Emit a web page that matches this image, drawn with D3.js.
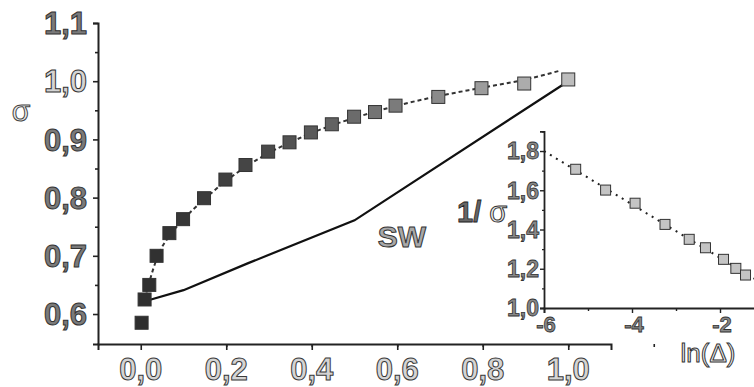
<!DOCTYPE html>
<html>
<head>
<meta charset="utf-8">
<script src="https://cdn.jsdelivr.net/npm/d3@7"></script>
<style>
  body { margin: 0; background: #fff; }
  svg { display: block; }
  text { font-family: "Liberation Sans", Arial, sans-serif; }
</style>
</head>
<body>
<svg id="viz" width="754" height="387"></svg>
<script>
// main panel: sigma vs x
const sigX = [0.002, 0.009, 0.02, 0.037, 0.067, 0.099, 0.148, 0.198, 0.245, 0.298, 0.348, 0.398, 0.447, 0.499, 0.548, 0.596, 0.696, 0.797, 0.897, 1.0];
const sigY = [0.585, 0.625, 0.65, 0.70, 0.739, 0.763, 0.799, 0.831, 0.856, 0.879, 0.895, 0.912, 0.926, 0.939, 0.947, 0.958, 0.973, 0.988, 0.996, 1.003];

// dashed fit through the squares
const fitX = [0.009, 0.02, 0.04, 0.07, 0.1, 0.15, 0.2, 0.25, 0.3, 0.35, 0.4, 0.45, 0.5, 0.55, 0.6, 0.7, 0.8, 0.9, 0.98];
const fitY = [0.625, 0.655, 0.70, 0.737, 0.763, 0.798, 0.829, 0.855, 0.877, 0.895, 0.911, 0.925, 0.937, 0.948, 0.958, 0.975, 0.989, 1.003, 1.018];

// solid "SW" curve
const swX = [0.02, 0.1, 0.25, 0.5, 1.0];
const swY = [0.624, 0.641, 0.687, 0.761, 1.0];

const xTicks = [0, 0.2, 0.4, 0.6, 0.8, 1.0];
const yTicks = [0.6, 0.7, 0.8, 0.9, 1.0, 1.1];

// inset: 1/sigma vs ln(delta)
const lnD = [-5.28, -4.60, -3.93, -3.25, -2.70, -2.33, -1.92, -1.64, -1.42];
const invSig = [1.707, 1.601, 1.534, 1.426, 1.350, 1.307, 1.248, 1.202, 1.168];
const lnFitX = [-6, -1.2];
const lnFitY = [1.80, 1.147];

const insetXTicks = [-6, -4, -2];
const insetYTicks = [1.0, 1.2, 1.4, 1.6, 1.8];

const fmt = v => d3.format(".1f")(v).replace(".", ",");

const svg = d3.select("#viz");

// --- main scales ---
const x = d3.scaleLinear().domain([-0.1, 1.1]).range([98, 611]);
const y = d3.scaleLinear().domain([0.5485, 1.1]).range([344, 23]);

const shade = d3.scaleLinear().domain([0, 0.3, 1]).range(["#2e2e2e", "#4a4a4a", "#bdbdbd"]);

function minorTicks(lo, hi, step) {
  return d3.range(Math.round(lo / step), Math.round(hi / step) + 1).map(i => +(i * step).toFixed(4));
}

// axes
const gx = svg.append("g").attr("transform", `translate(0,${y(0.5485)})`)
  .call(d3.axisBottom(x).tickValues(xTicks).tickSize(6).tickFormat(""));
const gxm = svg.append("g").attr("transform", `translate(0,${y(0.5485)})`)
  .call(d3.axisBottom(x).tickValues(minorTicks(0.1, 1.1, 0.2)).tickSize(3).tickFormat(""));
const gy = svg.append("g").attr("transform", `translate(${x(-0.1)},0)`)
  .call(d3.axisLeft(y).tickValues(yTicks).tickSize(5).tickFormat(""));
const gym = svg.append("g").attr("transform", `translate(${x(-0.1)},0)`)
  .call(d3.axisLeft(y).tickValues([0.65, 0.75, 0.85, 0.95, 1.05]).tickSize(3).tickFormat(""));

[gx, gxm, gy, gym].forEach(g => {
  g.select(".domain").attr("stroke", "#222").attr("stroke-width", 2);
  g.selectAll(".tick line").attr("stroke", "#222").attr("stroke-width", 1.6);
});
gxm.select(".domain").remove();
gym.select(".domain").remove();

// tick labels (hollow scan-like look)
svg.append("g").selectAll("text")
  .data(xTicks)
  .enter().append("text")
  .attr("x", d => x(d))
  .attr("y", 380)
  .attr("text-anchor", "middle")
  .style("font-size", "31px")
  .style("font-weight", "bold")
  .attr("fill", "#d4d4d4")
  .attr("stroke", "#3a3a3a")
  .attr("stroke-width", 1)
  .text(fmt);

svg.append("g").selectAll("text")
  .data(yTicks)
  .enter().append("text")
  .attr("x", 87)
  .attr("y", d => y(d))
  .attr("dy", "0.36em")
  .attr("text-anchor", "end")
  .style("font-size", "31px")
  .style("font-weight", "bold")
  .attr("fill", d => d === 1.0 ? "#d4d4d4" : "#7a7a7a")
  .attr("stroke", "#333")
  .attr("stroke-width", 1)
  .text(fmt);

svg.append("text")
  .attr("x", 21).attr("y", 121)
  .attr("text-anchor", "middle")
  .style("font-size", "30px")
  .attr("fill", "#eee")
  .attr("stroke", "#444")
  .attr("stroke-width", 1)
  .text("σ");

// lines
const line = d3.line().x(d => x(d[0])).y(d => y(d[1]));

svg.append("path")
  .attr("d", line(swX.map((v, i) => [v, swY[i]])))
  .attr("fill", "none")
  .attr("stroke", "#111")
  .attr("stroke-width", 2.2);

svg.append("path")
  .attr("d", d3.line().curve(d3.curveMonotoneX).x(d => x(d[0])).y(d => y(d[1]))(fitX.map((v, i) => [v, fitY[i]])))
  .attr("fill", "none")
  .attr("stroke", "#333")
  .attr("stroke-width", 2)
  .attr("stroke-dasharray", "4,3");

// squares
const sq = 13;
svg.append("g").selectAll("rect")
  .data(sigX.map((v, i) => [v, sigY[i]]))
  .enter().append("rect")
  .attr("x", d => x(d[0]) - sq / 2)
  .attr("y", d => y(d[1]) - sq / 2)
  .attr("width", sq).attr("height", sq)
  .attr("fill", d => shade(d[0]))
  .attr("stroke", "#333")
  .attr("stroke-width", 1);

svg.append("text")
  .attr("x", 402).attr("y", 247)
  .attr("text-anchor", "middle")
  .style("font-size", "30px")
  .style("font-weight", "bold")
  .attr("fill", "#a8a8a8")
  .attr("stroke", "#333")
  .attr("stroke-width", 1)
  .text("SW");

// --- inset ---
const ix = d3.scaleLinear().domain([-6, -1]).range([544, 764]);
const iy = d3.scaleLinear().domain([1.0, 1.9]).range([308, 131.4]);

const igx = svg.append("g").attr("transform", `translate(0,${iy(1.0)})`)
  .call(d3.axisBottom(ix).tickValues(insetXTicks).tickSize(5).tickFormat(""));
const igxm = svg.append("g").attr("transform", `translate(0,${iy(1.0)})`)
  .call(d3.axisBottom(ix).tickValues([-5, -3, -1]).tickSize(3).tickFormat(""));
const igy = svg.append("g").attr("transform", `translate(${ix(-6)},0)`)
  .call(d3.axisLeft(iy).tickValues(insetYTicks).tickSize(4).tickFormat(""));
const igym = svg.append("g").attr("transform", `translate(${ix(-6)},0)`)
  .call(d3.axisLeft(iy).tickValues([1.1, 1.3, 1.5, 1.7, 1.9]).tickSize(2).tickFormat(""));

[igx, igxm, igy, igym].forEach(g => {
  g.select(".domain").attr("stroke", "#222").attr("stroke-width", 1.8);
  g.selectAll(".tick line").attr("stroke", "#222").attr("stroke-width", 1.4);
});
igxm.select(".domain").remove();
igym.select(".domain").remove();

svg.append("g").selectAll("text")
  .data(insetYTicks)
  .enter().append("text")
  .attr("x", 539)
  .attr("y", d => iy(d))
  .attr("dy", "0.36em")
  .attr("text-anchor", "end")
  .style("font-size", "23px")
  .style("font-weight", "bold")
  .attr("fill", "#888")
  .attr("stroke", "#333")
  .attr("stroke-width", 0.8)
  .text(fmt);

svg.append("g").selectAll("text")
  .data(insetXTicks)
  .enter().append("text")
  .attr("x", d => ix(d) + 2)
  .attr("y", 332)
  .attr("text-anchor", "middle")
  .style("font-size", "22px")
  .style("font-weight", "bold")
  .attr("fill", "#888")
  .attr("stroke", "#333")
  .attr("stroke-width", 0.8)
  .text(d => String(d));

const ylab = svg.append("text")
  .attr("x", 457).attr("y", 222)
  .style("font-size", "29px");
ylab.append("tspan")
  .style("font-weight", "bold")
  .attr("fill", "#666")
  .attr("stroke", "#222")
  .attr("stroke-width", 0.8)
  .text("1/ ");
ylab.append("tspan")
  .attr("fill", "#eee")
  .attr("stroke", "#333")
  .attr("stroke-width", 1)
  .text("σ");

svg.append("text")
  .attr("x", 708).attr("y", 362)
  .attr("text-anchor", "middle")
  .style("font-size", "26px")
  .attr("fill", "#eee")
  .attr("stroke", "#333")
  .attr("stroke-width", 1)
  .text("ln(Δ)");

svg.append("path")
  .attr("d", d3.line().x(d => ix(d[0])).y(d => iy(d[1]))(lnFitX.map((v, i) => [v, lnFitY[i]])))
  .attr("fill", "none")
  .attr("stroke", "#222")
  .attr("stroke-width", 2)
  .attr("stroke-dasharray", "2,5");

const isq = 10;
svg.append("g").selectAll("rect")
  .data(lnD.map((v, i) => [v, invSig[i]]))
  .enter().append("rect")
  .attr("x", d => ix(d[0]) - isq / 2)
  .attr("y", d => iy(d[1]) - isq / 2)
  .attr("width", isq).attr("height", isq)
  .attr("fill", "#c4c4c4")
  .attr("stroke", "#333")
  .attr("stroke-width", 1);
</script>
</body>
</html>
